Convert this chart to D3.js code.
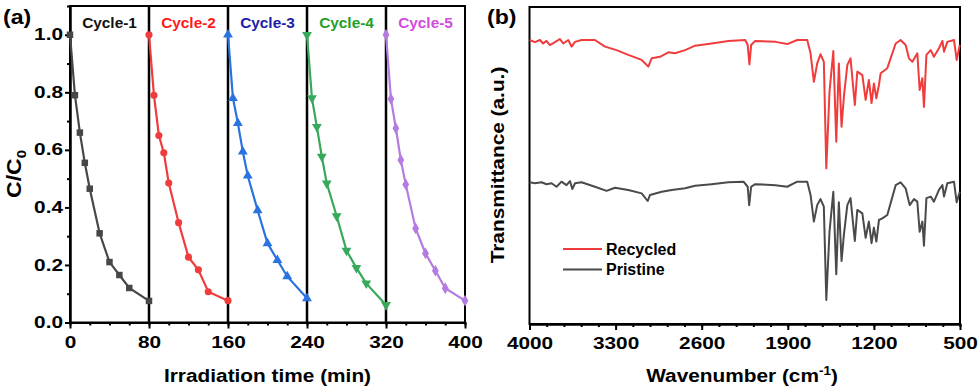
<!DOCTYPE html>
<html>
<head>
<meta charset="utf-8">
<script src="https://cdn.jsdelivr.net/npm/d3@7"></script>
<style>
  body { margin: 0; background: #fff; }
  svg { display: block; font-family: "Liberation Sans", Arial, sans-serif; font-weight: bold; }
</style>
</head>
<body>
<svg id="chart" width="980" height="389"></svg>
<script>
// ---- panel (a): photocatalytic cycles ----
var cycleNames = ["Cycle-1", "Cycle-2", "Cycle-3", "Cycle-4", "Cycle-5"]
var cycle1Time = [0, 5, 10, 15, 20, 30, 40, 50, 60, 80]
var cycle1Ratio = [1.0, 0.79, 0.66, 0.555, 0.465, 0.31, 0.21, 0.165, 0.12, 0.075]
var cycle2Time = [80, 85, 90, 95, 100, 110, 120, 130, 140, 160]
var cycle2Ratio = [1.0, 0.79, 0.65, 0.59, 0.485, 0.347, 0.227, 0.183, 0.107, 0.076]
var cycle3Time = [160, 165, 170, 175, 180, 190, 200, 210, 220, 240]
var cycle3Ratio = [1.0, 0.78, 0.693, 0.594, 0.51, 0.39, 0.275, 0.217, 0.16, 0.084]
var cycle4Time = [240, 245, 250, 255, 260, 270, 280, 290, 300, 320]
var cycle4Ratio = [1.0, 0.78, 0.68, 0.577, 0.484, 0.37, 0.25, 0.19, 0.136, 0.061]
var cycle5Time = [320, 325, 330, 335, 340, 350, 360, 370, 380, 400]
var cycle5Ratio = [1.0, 0.777, 0.675, 0.565, 0.48, 0.327, 0.24, 0.18, 0.119, 0.076]
var cycleBreaks = [80, 160, 240, 320]
var timeTicks = [0, 80, 160, 240, 320, 400]
var ratioTicks = [0, 0.2, 0.4, 0.6, 0.8, 1.0]

// ---- panel (b): FTIR spectra ----
var recycledWave = [4000, 3956, 3915, 3889, 3862, 3834, 3793, 3753, 3726, 3685, 3658, 3630, 3577, 3468,
  3386, 3292, 3197, 3088, 3034, 3007, 2939, 2871, 2817, 2735, 2654, 2519, 2383, 2247, 2226, 2212, 2198,
  2165, 2000, 1905, 1823, 1742, 1715, 1688, 1661, 1634, 1607, 1587, 1561, 1530, 1506, 1485, 1463, 1444,
  1416, 1390, 1355, 1335, 1294, 1267, 1241, 1219, 1200, 1180, 1159, 1145, 1091, 1023, 983, 942, 915, 887,
  847, 828, 806, 793, 773, 738, 712, 671, 643, 630, 603, 549, 527, 502]
var recycledT = [89.6, 88.9, 89.6, 88.5, 89.3, 88.0, 88.9, 89.9, 88.5, 89.6, 87.5, 89.0, 89.6, 89.6,
  87.5, 86.4, 84.9, 83.3, 81.2, 83.8, 84.3, 85.7, 85.4, 86.4, 87.8, 88.5, 89.3, 89.6, 88.0, 81.9, 88.0,
  89.3, 89.0, 88.3, 89.6, 89.6, 85.4, 76.4, 82.2, 85.1, 82.7, 49.1, 73.3, 86.1, 57.5, 82.2, 62.2, 71.7,
  81.7, 83.8, 69.1, 79.6, 78.5, 70.7, 77.0, 69.7, 75.9, 71.2, 75.4, 79.1, 80.7, 88.5, 89.6, 88.0, 83.8, 82.7,
  85.4, 73.8, 77.5, 68.5, 84.9, 86.4, 84.3, 87.0, 89.3, 85.9, 89.0, 89.6, 83.3, 88.0]
var pristineWave = [4000, 3956, 3902, 3862, 3821, 3780, 3740, 3699, 3671, 3652, 3630, 3577, 3468, 3373,
  3305, 3197, 3088, 3039, 3020, 2925, 2844, 2735, 2654, 2519, 2383, 2260, 2226, 2214, 2198, 2165, 2000,
  1905, 1823, 1742, 1715, 1688, 1661, 1634, 1607, 1587, 1561, 1530, 1506, 1485, 1463, 1444, 1416, 1390,
  1355, 1335, 1294, 1267, 1241, 1219, 1200, 1180, 1159, 1132, 1091, 1023, 983, 942, 909, 874, 847, 828,
  806, 793, 773, 738, 712, 671, 643, 630, 603, 549, 527, 502]
var pristineT = [44.7, 44.4, 44.7, 44.1, 44.4, 43.3, 44.9, 43.8, 45.1, 42.6, 44.4, 44.7, 43.3, 42.0,
  43.0, 42.3, 41.2, 38.8, 40.7, 41.7, 42.3, 42.8, 43.6, 44.1, 44.7, 44.9, 43.3, 37.5, 43.3, 44.1, 43.8,
  43.3, 44.9, 44.9, 40.7, 32.3, 37.5, 39.4, 37.0, 7.6, 29.1, 41.7, 15.7, 38.4, 19.9, 28.1, 37.5, 39.7,
  26.2, 36.0, 34.9, 27.2, 32.3, 25.5, 30.4, 26.0, 32.8, 33.3, 34.4, 43.8, 44.7, 42.8, 37.5, 39.4, 38.6, 29.1,
  32.3, 24.7, 39.7, 40.2, 38.6, 42.3, 43.8, 40.2, 44.4, 44.9, 38.4, 41.7]
var waveTicks = [4000, 3300, 2600, 1900, 1200, 500]
var legendNames = ["Recycled", "Pristine"]

var svg = d3.select("#chart")

// the source figure's lettering is a bit wider than Liberation Sans, so stretch it sideways
var tickStretch = 1.3, titleStretch = 1.12

// ================= panel (a) =================
var xA = d3.scaleLinear().domain([0, 400]).range([70, 465])
var yA = d3.scaleLinear().domain([0, 1.1]).range([322.5, 6])

var cycles = [
  {name: cycleNames[0], t: cycle1Time, r: cycle1Ratio, line: "#474747", label: "#111111", sym: d3.symbolSquare, size: 42, rot: 0},
  {name: cycleNames[1], t: cycle2Time, r: cycle2Ratio, line: "#f03c3c", label: "#ff1a1a", sym: d3.symbolCircle, size: 40, rot: 0},
  {name: cycleNames[2], t: cycle3Time, r: cycle3Ratio, line: "#2a72e0", label: "#1c1ca8", sym: d3.symbolTriangle, size: 42, rot: 0},
  {name: cycleNames[3], t: cycle4Time, r: cycle4Ratio, line: "#38a85a", label: "#1f9f2a", sym: d3.symbolTriangle, size: 42, rot: 180},
  {name: cycleNames[4], t: cycle5Time, r: cycle5Ratio, line: "#b47be0", label: "#d24be0", sym: d3.symbolDiamond, size: 40, rot: 0}
]

var gA = svg.append("g")

// axes
var axA = gA.append("g").attr("transform", "translate(0,322.5)")
  .call(d3.axisBottom(xA).tickValues(timeTicks).tickSize(6).tickSizeOuter(0).tickPadding(8).tickFormat(d3.format("d")))
axA.append("g").call(d3.axisBottom(xA).tickValues(d3.range(20, 400, 20)).tickSize(3).tickFormat(""))
var ayA = gA.append("g").attr("transform", "translate(70,0)")
  .call(d3.axisLeft(yA).tickValues(ratioTicks).tickSize(5).tickSizeOuter(0).tickPadding(2).tickFormat(d3.format(".1f")))
ayA.append("g").call(d3.axisLeft(yA).tickValues([0.1, 0.3, 0.5, 0.7, 0.9]).tickSize(3).tickFormat(""))
ayA.selectAll(".tick text").attr("x", -7 / tickStretch)

// frame and cycle separators
gA.append("rect").attr("x", xA(0)).attr("y", yA(1.1))
  .attr("width", xA(400) - xA(0)).attr("height", yA(0) - yA(1.1))
  .attr("fill", "none").attr("stroke", "#000").attr("stroke-width", 2)
gA.selectAll(".sep").data(cycleBreaks).join("line")
  .attr("x1", d => xA(d)).attr("x2", d => xA(d))
  .attr("y1", yA(1.1)).attr("y2", yA(0))
  .attr("stroke", "#000").attr("stroke-width", 2.5)

var lineA = d3.line().x(d => xA(d[0])).y(d => yA(d[1]))
cycles.forEach((c, i) => {
  var pts = c.t.map((t, k) => [t, c.r[k]])
  gA.append("path").datum(pts)
    .attr("d", lineA).attr("fill", "none")
    .attr("stroke", c.line).attr("stroke-width", 2.2)
  gA.selectAll(".m" + i).data(pts).join("path")
    .attr("d", d3.symbol().type(c.sym).size(c.size))
    .attr("transform", d => "translate(" + xA(d[0]) + "," + yA(d[1]) + ") rotate(" + c.rot + ")")
    .attr("fill", c.line)
  gA.append("text")
    .attr("transform", "translate(" + xA((c.t[0] + c.t[c.t.length - 1]) / 2) + ",27.5) scale(1.1,1)")
    .attr("text-anchor", "middle").attr("font-size", 14).attr("fill", c.label)
    .text(c.name)
})

gA.append("text").attr("transform", "translate(3,24) scale(1.1,1)").attr("font-size", 21).text("(a)")
gA.append("text").attr("transform", "translate(" + xA(200) + ",381.5) scale(" + titleStretch + ",1)")
  .attr("text-anchor", "middle").attr("font-size", 18.6).text("Irradiation time (min)")
var yLab = gA.append("text").attr("transform", "translate(21,174) rotate(-90) scale(1.15,1)")
  .attr("text-anchor", "middle").attr("font-size", 20)
yLab.append("tspan").text("C/C")
yLab.append("tspan").attr("font-size", 13).attr("dy", 5).text("0")

// ================= panel (b) =================
var xB = d3.scaleLinear().domain([4000, 500]).range([529.5, 960])
var yB = d3.scaleLinear().domain([0, 100]).range([324, 7])

var gB = svg.append("g")
var axB = gB.append("g").attr("transform", "translate(0,324)")
  .call(d3.axisBottom(xB).tickValues(waveTicks).tickSize(6).tickSizeOuter(0).tickPadding(8).tickFormat(d3.format("d")))
axB.append("g").call(d3.axisBottom(xB).tickValues(d3.range(3860, 500, -140)).tickSize(3).tickFormat(""))

gB.append("rect").attr("x", xB(4000)).attr("y", yB(100))
  .attr("width", xB(500) - xB(4000)).attr("height", yB(0) - yB(100))
  .attr("fill", "none").attr("stroke", "#000").attr("stroke-width", 2)

var lineB = d3.line().x(d => xB(d[0])).y(d => yB(d[1]))
var spectra = [
  {name: legendNames[0], w: recycledWave, v: recycledT, color: "#f03c3c"},
  {name: legendNames[1], w: pristineWave, v: pristineT, color: "#4a4a4a"}
]
spectra.forEach((s, i) => {
  gB.append("path").datum(s.w.map((w, k) => [w, s.v[k]]))
    .attr("d", lineB).attr("fill", "none")
    .attr("stroke", s.color).attr("stroke-width", 2)
    .attr("stroke-linejoin", "round")
  gB.append("line")
    .attr("x1", 563).attr("x2", 602).attr("y1", 249 + i * 20.5).attr("y2", 249 + i * 20.5)
    .attr("stroke", s.color).attr("stroke-width", 2)
  gB.append("text").attr("x", 606).attr("y", 254.5 + i * 20.5)
    .attr("font-size", 16).text(s.name)
})

gB.append("text").attr("transform", "translate(487,24) scale(1.1,1)").attr("font-size", 21).text("(b)")
var xLabB = gB.append("text").attr("transform", "translate(742,382) scale(" + titleStretch + ",1)")
  .attr("text-anchor", "middle").attr("font-size", 18.6)
xLabB.append("tspan").text("Wavenumber (cm")
xLabB.append("tspan").attr("font-size", 12).attr("dy", -7).text("-1")
xLabB.append("tspan").attr("dy", 7).text(")")
gB.append("text").attr("transform", "translate(504,165) rotate(-90) scale(" + titleStretch + ",1)")
  .attr("text-anchor", "middle").attr("font-size", 18.6).text("Transmittance (a.u.)")

svg.selectAll(".tick text").attr("font-size", 16).attr("font-weight", "bold")
  .attr("font-family", "Liberation Sans, Arial, sans-serif").attr("fill", "#000")
  .attr("transform", "scale(" + tickStretch + ",1)")
svg.selectAll(".domain").attr("stroke-width", 2)
svg.selectAll(".tick line").attr("stroke-width", 2)
</script>
</body>
</html>
